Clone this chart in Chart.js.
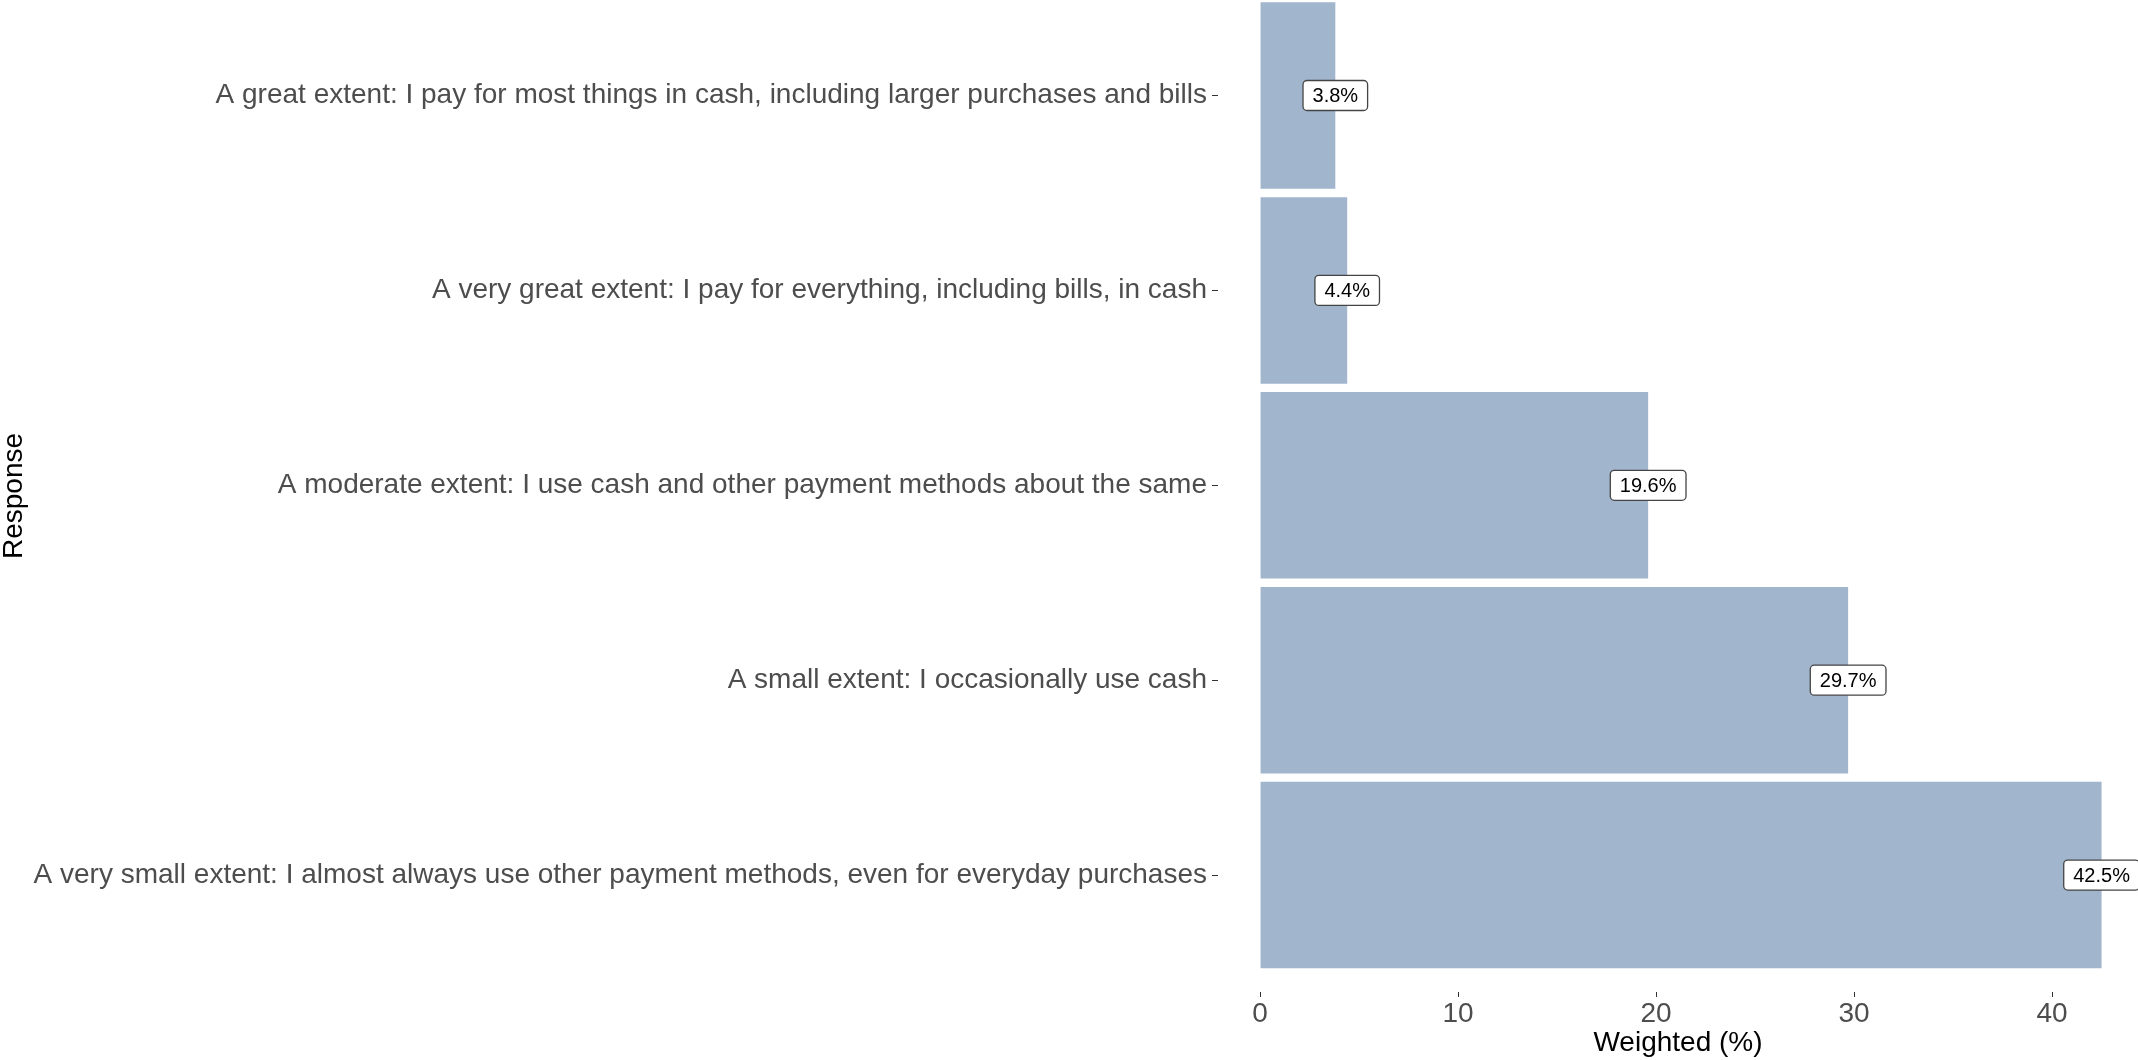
<!DOCTYPE html>
<html>
<head>
<meta charset="utf-8">
<script src="https://cdn.jsdelivr.net/npm/chart.js@4/dist/chart.umd.min.js"></script>
<style>
  html, body { margin: 0; padding: 0; background: #ffffff; }
  #wrap { width: 2138px; height: 1060px; position: relative; }
</style>
</head>
<body>
<div id="wrap"><canvas id="c" width="2138" height="1060"></canvas></div>
<script>
const categories = [
  "A great extent: I pay for most things in cash, including larger purchases and bills",
  "A very great extent: I pay for everything, including bills, in cash",
  "A moderate extent: I use cash and other payment methods about the same",
  "A small extent: I occasionally use cash",
  "A very small extent: I almost always use other payment methods, even for everyday purchases"
];
const weightedPct = [3.8, 4.4, 19.6, 29.7, 42.5];
const valueLabels = ["3.8%", "4.4%", "19.6%", "29.7%", "42.5%"];
const xTicks = [0, 10, 20, 30, 40];

const FONT = "'Liberation Sans', Arial, Helvetica, sans-serif";

const labelPlugin = {
  id: 'boxLabels',
  afterDatasetsDraw(chart) {
    const ctx = chart.ctx;
    const meta = chart.getDatasetMeta(0);
    const xs = chart.scales.x;
    ctx.save();
    ctx.font = "20px " + FONT;
    meta.data.forEach((el, i) => {
      const cx = xs.getPixelForValue(weightedPct[i]);
      const cy = el.y;
      const txt = valueLabels[i];
      const tw = ctx.measureText(txt).width;
      const w = tw + 19, h = 30, r = 4;
      const x0 = cx - w / 2, y0 = cy - h / 2;
      ctx.beginPath();
      ctx.roundRect(x0, y0, w, h, r);
      ctx.fillStyle = '#ffffff';
      ctx.fill();
      ctx.lineWidth = 1.3;
      ctx.strokeStyle = '#444444';
      ctx.stroke();
      ctx.fillStyle = '#000000';
      ctx.textAlign = 'center';
      ctx.textBaseline = 'middle';
      ctx.fillText(txt, cx, cy + 1);
    });
    ctx.restore();
  }
};

new Chart(document.getElementById('c'), {
  type: 'bar',
  data: {
    datasets: [{
      data: weightedPct.map((v, i) => ({ x: v, y: i })),
      backgroundColor: '#a1b5cc',
      borderWidth: 0,
      categoryPercentage: 1.0,
      barPercentage: 0.957
    }]
  },
  options: {
    indexAxis: 'y',
    responsive: false,
    animation: false,
    devicePixelRatio: 1,
    layout: { padding: 0 },
    plugins: { legend: { display: false }, tooltip: { enabled: false } },
    scales: {
      x: {
        type: 'linear',
        min: -2.125,
        max: 44.34,
        offset: false,
        afterBuildTicks(scale) { scale.ticks = xTicks.map(v => ({ value: v })); },
        afterFit(scale) { scale.height = 68; scale.paddingLeft = 0; scale.paddingRight = 0; },
        border: { display: false },
        grid: { display: true, offset: false, drawOnChartArea: false, drawTicks: true, tickLength: 5, color: '#333333', lineWidth: 1 },
        ticks: { color: '#4d4d4d', font: { family: FONT, size: 28 }, padding: 0, maxRotation: 0 },
        title: { display: true, text: 'Weighted (%)', color: '#000000', font: { family: FONT, size: 28, lineHeight: 1.2 }, padding: 0 }
      },
      y: {
        type: 'linear',
        reverse: true,
        min: -0.49,
        max: 4.6,
        offset: false,
        afterBuildTicks(scale) { scale.ticks = categories.map((c, i) => ({ value: i })); },
        afterFit(scale) { scale.width = 1218; scale.paddingTop = 0; scale.paddingBottom = 0; },
        border: { display: false },
        grid: { display: true, offset: false, drawOnChartArea: false, drawTicks: true, tickLength: 6, color: '#333333', lineWidth: 1 },
        ticks: { color: '#4d4d4d', font: { family: FONT, size: 28 }, padding: 5, autoSkip: false,
          callback: (v) => categories[v] },
        title: { display: true, text: 'Response', color: '#000000', font: { family: FONT, size: 28, lineHeight: 1.0 }, padding: 0 }
      }
    }
  },
  plugins: [labelPlugin]
});
</script>
</body>
</html>
